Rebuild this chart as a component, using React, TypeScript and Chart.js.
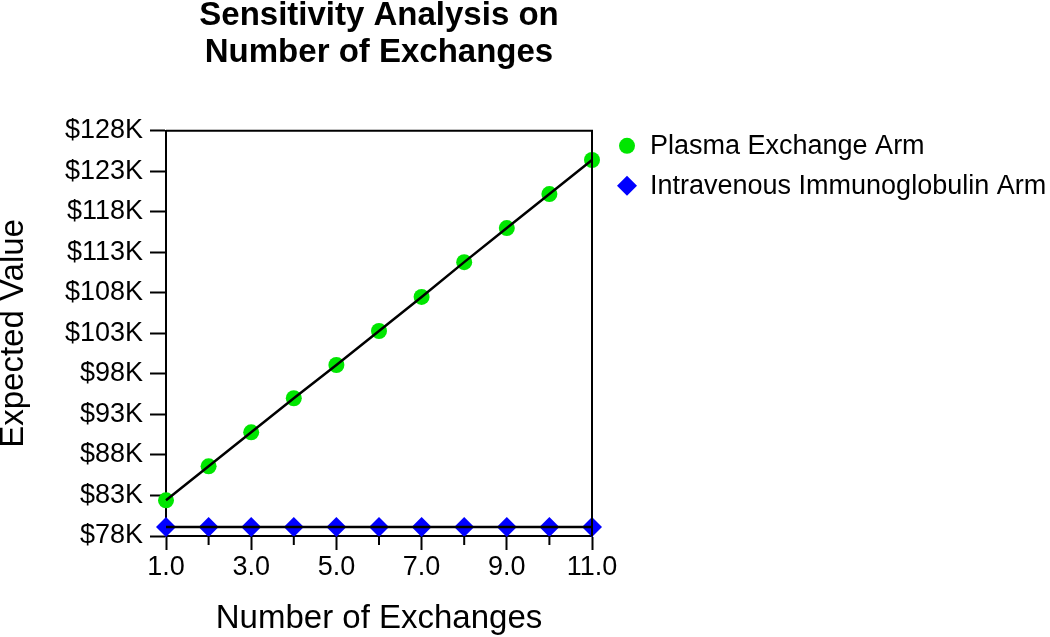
import React, { useEffect, useRef } from 'react';
import { Chart, registerables } from 'chart.js';
import { drawPoint } from 'chart.js/helpers';

Chart.register(...registerables);

// ---- data ----
const exchanges = [1, 2, 3, 4, 5, 6, 7, 8, 9, 10, 11];
const plasmaExchangeArm = [82400, 86600, 90800, 95000, 99100, 103300, 107500, 111800, 116000, 120200, 124400];
const ivigArm = [79100, 79100, 79100, 79100, 79100, 79100, 79100, 79100, 79100, 79100, 79100];
const seriesNames = ['Plasma Exchange Arm', 'Intravenous Immunoglobulin Arm'];
const seriesColors = ['#00e600', '#0000ff'];
const seriesPointStyles = ['circle', 'rectRot'];

const xTickValues = [1, 3, 5, 7, 9, 11];
const xTickLabels = ['1.0', '3.0', '5.0', '7.0', '9.0', '11.0'];
const xMinorTickValues = [2, 4, 6, 8, 10];
const yTickValues = [78000, 83000, 88000, 93000, 98000, 103000, 108000, 113000, 118000, 123000, 128000];
const yTickLabels = ['$78K', '$83K', '$88K', '$93K', '$98K', '$103K', '$108K', '$113K', '$118K', '$123K', '$128K'];

const titleLines = ['Sensitivity Analysis on', 'Number of Exchanges'];
const xTitle = 'Number of Exchanges';
const yTitle = 'Expected Value';

const FONT = '"Liberation Sans", Arial, Helvetica, sans-serif';

const boxAndLegend = {
  id: 'boxAndLegend',
  afterDatasetsDraw(chart: any) {
    const { ctx, chartArea: a, scales } = chart;
    ctx.save();
    ctx.strokeStyle = '#000';
    ctx.lineWidth = 2;
    ctx.beginPath();
    ctx.moveTo(a.left, a.top);
    ctx.lineTo(a.right, a.top);
    ctx.lineTo(a.right, a.bottom);
    xMinorTickValues.forEach((v) => {
      const px = scales.x.getPixelForValue(v);
      ctx.moveTo(px, a.bottom);
      ctx.lineTo(px, a.bottom + 9);
    });
    ctx.stroke();
    ctx.restore();
  },
  afterDraw(chart: any) {
    const { ctx, chartArea: a } = chart;
    const rows = [a.top + 15, a.top + 55];
    const radii = [8, 10];
    ctx.save();
    seriesNames.forEach((name, i) => {
      const y = rows[i];
      ctx.fillStyle = seriesColors[i];
      drawPoint(ctx, { pointStyle: seriesPointStyles[i] as any, radius: radii[i], rotation: 0, borderWidth: 0 }, a.right + 35, y);
      ctx.fillStyle = '#000';
      ctx.font = `27px ${FONT}`;
      ctx.textBaseline = 'middle';
      ctx.textAlign = 'left';
      ctx.fillText(name, a.right + 58, y + 1);
    });
    ctx.restore();
  },
};

export default function App() {
  const ref = useRef<HTMLCanvasElement>(null);

  useEffect(() => {
    document.body.style.margin = '0';
    if (!ref.current) return;
    Chart.defaults.font.family = FONT;
    Chart.defaults.color = '#000';

    const chart = new Chart(ref.current, {
      type: 'line',
      data: {
        labels: exchanges,
        datasets: [
          {
            label: seriesNames[0],
            data: exchanges.map((x, i) => ({ x, y: plasmaExchangeArm[i] })),
            showLine: false,
            pointStyle: 'circle',
            pointRadius: 8,
            pointBackgroundColor: seriesColors[0],
            pointBorderWidth: 0,
            order: 2,
            clip: false,
          },
          {
            label: seriesNames[1],
            data: exchanges.map((x, i) => ({ x, y: ivigArm[i] })),
            showLine: false,
            pointStyle: 'rectRot',
            pointRadius: 10,
            pointBackgroundColor: seriesColors[1],
            pointBorderWidth: 0,
            order: 2,
            clip: false,
          },
          {
            label: seriesNames[0] + ' line',
            data: exchanges.map((x, i) => ({ x, y: plasmaExchangeArm[i] })),
            borderColor: '#000',
            borderWidth: 2.5,
            pointRadius: 0,
            tension: 0,
            order: 1,
            clip: false,
          },
          {
            label: seriesNames[1] + ' line',
            data: exchanges.map((x, i) => ({ x, y: ivigArm[i] })),
            borderColor: '#000',
            borderWidth: 2.5,
            pointRadius: 0,
            tension: 0,
            order: 1,
            clip: false,
          },
        ],
      },
      options: {
        responsive: false,
        animation: false,
        events: [],
        layout: { padding: { left: 0, top: 0, bottom: 0, right: 458 } },
        plugins: {
          legend: { display: false },
          tooltip: { enabled: false },
          title: {
            display: true,
            text: titleLines,
            color: '#000',
            fullSize: false,
            font: { size: 33, weight: 'bold', lineHeight: 1.11, family: FONT },
            padding: { top: -2.5, bottom: 60.1 },
          },
        },
        scales: {
          x: {
            type: 'linear',
            min: 1,
            max: 11,
            z: 1,
            afterBuildTicks: (scale: any) => {
              scale.ticks = xTickValues.map((v) => ({ value: v }));
            },
            afterFit: (scale: any) => {
              scale.height = 101;
            },
            grid: { drawOnChartArea: false, drawTicks: true, tickLength: 14, tickColor: '#000', tickWidth: 2 },
            border: { display: true, color: '#000', width: 2 },
            ticks: {
              autoSkip: false,
              maxRotation: 0,
              padding: 1,
              color: '#000',
              font: { size: 27, family: FONT },
              callback: (v: any) => {
                const i = xTickValues.indexOf(Number(v));
                return i >= 0 ? xTickLabels[i] : '';
              },
            },
            title: {
              display: true,
              text: xTitle,
              color: '#000',
              font: { size: 33, lineHeight: 1, family: FONT },
              padding: { top: 0, bottom: 2 },
            },
          },
          y: {
            type: 'linear',
            min: 78000,
            max: 128000,
            z: 1,
            afterBuildTicks: (scale: any) => {
              scale.ticks = yTickValues.map((v) => ({ value: v }));
            },
            afterFit: (scale: any) => {
              scale.width = 166;
            },
            grid: { drawOnChartArea: false, drawTicks: true, tickLength: 16, tickColor: '#000', tickWidth: 2 },
            border: { display: true, color: '#000', width: 2 },
            ticks: {
              autoSkip: false,
              padding: 7,
              color: '#000',
              font: { size: 27, family: FONT },
              callback: (v: any) => {
                const i = yTickValues.indexOf(Number(v));
                return i >= 0 ? yTickLabels[i] : '';
              },
            },
            title: {
              display: true,
              text: yTitle,
              color: '#000',
              font: { size: 33, lineHeight: 1, family: FONT },
              padding: { top: -3, bottom: 0 },
            },
          },
        },
      },
      plugins: [boxAndLegend],
    } as any);

    return () => chart.destroy();
  }, []);

  return (
    <div style={{ width: 1050, height: 637 }}>
      <canvas ref={ref} width={1050} height={637} style={{ display: 'block' }} />
    </div>
  );
}
